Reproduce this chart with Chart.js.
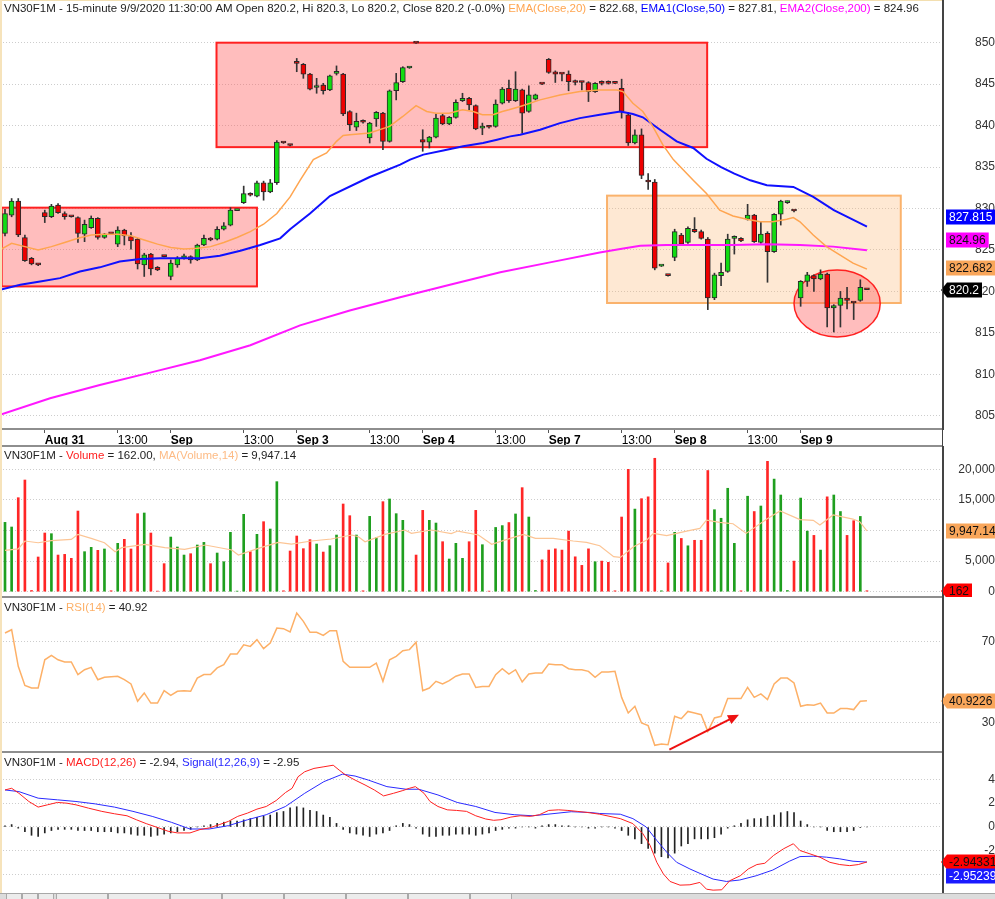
<!DOCTYPE html>
<html>
<head>
<meta charset="utf-8">
<title>VN30F1M 15-minute</title>
<script src="https://cdn.jsdelivr.net/npm/chart.js@4.4.1/dist/chart.umd.min.js"></script>
<style>
  html, body { margin: 0; padding: 0; background: #fff; }
  body { position: relative; width: 995px; height: 899px; overflow: hidden; }
  canvas { position: absolute; left: 0; }
  .hline { position: absolute; left: 0; width: 943px; height: 2px; background: #8e8e8e; }
  #vaxis { position: absolute; left: 942px; top: 0; width: 1px; height: 895px; background: #444; }
  #edgeTop { position: absolute; left: 0; top: 0; width: 942px; height: 1px; background: #f3dfb0; }
  #edgeLeft { position: absolute; left: 0; top: 0; width: 2px; height: 893px; background: #f6e3bb; }
  #tabs { position: absolute; left: 0; top: 893px; width: 995px; height: 6px; background: #dcdcdc; border-top: 1px solid #a8a8a8; }
  #tabs span { position: absolute; top: 0; height: 6px; border: 1px solid #aaa; border-top: none; background: #ececec; }
</style>
</head>
<body>
<canvas id="priceChart" width="995" height="446" style="top:0"></canvas>
<canvas id="volChart" width="995" height="151" style="top:446px"></canvas>
<canvas id="rsiChart" width="995" height="155" style="top:597px"></canvas>
<canvas id="macdChart" width="995" height="141" style="top:752px"></canvas>
<div class="hline" style="top:445px"></div>
<div class="hline" style="top:596px"></div>
<div class="hline" style="top:751px"></div>
<div id="vaxis"></div>
<div id="edgeTop"></div>
<div id="edgeLeft"></div>
<div id="tabs">
  <span style="left:6px;width:14px"></span><span style="left:22px;width:14px"></span><span style="left:38px;width:14px"></span>
  <span style="left:56px;width:50px"></span><span style="left:108px;width:60px"></span><span style="left:170px;width:50px"></span>
  <span style="left:222px;width:60px"></span><span style="left:284px;width:60px"></span><span style="left:346px;width:60px"></span>
  <span style="left:408px;width:60px"></span><span style="left:470px;width:40px"></span>
</div>
<script>
// ---- bars: 15-minute candles, index 0 = Aug 28 13:45 ... index 130 = Sep 9 11:30
const open = [
  827.0, 829.2, 830.9, 826.5, 824.0, 823.3, 829.5, 829.0, 830.4, 829.4,
  829.05, 828.9, 826.9, 827.7, 828.8, 826.5, 827.0, 825.7, 827.4, 826.6,
  826.3, 823.2, 824.5, 822.9, 824.25, 821.8, 823.2, 824.0, 824.2, 823.8,
  825.6, 826.4, 826.3, 827.5, 828.0, 829.75, 830.7, 831.8, 831.5, 833.1,
  832.0, 833.1, 837.95, 837.65, 847.6, 847.4, 846.2, 844.6, 844.9, 844.3,
  846.3, 846.2, 841.7, 839.8, 840.6, 838.5, 840.8, 841.5, 838.1, 844.2,
  845.3, 846.95, 850.0, 838.3, 838.0, 838.6, 841.2, 840.2, 841.0, 843.0,
  843.3, 842.4, 839.7, 839.9, 839.9, 842.7, 844.5, 843.0, 844.3, 841.7,
  843.2, 845.05, 848.0, 846.5, 846.25, 846.2, 845.25, 845.25, 845.2, 844.1,
  845.15, 845.15, 845.1, 844.5, 841.3, 837.9, 838.9, 833.4, 833.2, 823.05,
  821.95, 824.1, 826.8, 825.9, 827.5, 827.2, 826.3, 819.2, 821.9, 822.4,
  826.4, 826.4, 828.7, 829.2, 825.9, 827.0, 824.8, 829.3, 830.7, 829.75,
  819.2, 821.2, 821.9, 821.5, 822.1, 818.0, 818.3, 819.2, 818.65, 818.9, 820.2
];
const high = [
  829.9, 831.2, 831.2, 826.8, 824.1, 823.35, 829.8, 830.5, 830.6, 829.6,
  829.1, 829.0, 828.6, 829.1, 828.9, 827.0, 827.05, 827.8, 827.5, 827.1,
  826.4, 824.6, 824.6, 823.0, 824.3, 823.8, 824.2, 824.5, 824.3, 825.7,
  826.8, 826.5, 827.8, 828.3, 830.1, 829.85, 832.7, 831.9, 833.3, 833.3,
  833.5, 838.2, 838.0, 837.7, 848.1, 847.5, 846.3, 845.7, 845.1, 846.1,
  847.2, 846.3, 841.8, 841.5, 840.7, 840.4, 841.7, 841.6, 844.3, 846.3,
  847.1, 847.05, 850.05, 839.5, 838.7, 841.4, 841.4, 841.1, 843.1, 843.9,
  843.4, 842.5, 840.3, 840.0, 843.1, 844.6, 845.5, 846.5, 844.4, 844.8,
  843.8, 845.1, 848.1, 846.6, 846.3, 846.6, 845.5, 845.3, 845.3, 845.2,
  845.4, 845.4, 845.15, 845.6, 841.6, 839.5, 839.6, 834.2, 833.5, 823.15,
  822.0, 827.5, 827.0, 827.8, 828.9, 827.4, 826.5, 822.2, 823.4, 826.9,
  826.7, 826.5, 830.5, 829.3, 828.4, 827.2, 829.4, 831.0, 830.9, 829.8,
  821.3, 822.3, 822.0, 822.6, 822.2, 818.4, 820.0, 820.5, 818.7, 821.4, 820.3
];
const low = [
  826.7, 829.0, 826.6, 823.6, 823.2, 823.1, 828.3, 828.9, 829.4, 828.7,
  828.95, 825.9, 826.0, 827.6, 826.3, 826.4, 826.9, 825.4, 825.6, 825.1,
  822.7, 821.8, 822.0, 822.5, 824.15, 821.4, 822.9, 823.9, 823.4, 823.7,
  825.5, 826.1, 826.2, 827.4, 827.9, 829.75, 830.6, 831.5, 831.4, 831.0,
  831.9, 832.9, 837.85, 837.55, 846.5, 845.7, 844.3, 843.9, 843.8, 844.2,
  846.1, 841.2, 839.4, 839.4, 840.3, 837.9, 839.9, 837.1, 838.0, 843.1,
  845.2, 846.9, 849.9, 836.9, 837.3, 838.5, 840.1, 840.1, 840.9, 842.9,
  841.9, 839.5, 838.9, 839.7, 839.8, 842.6, 842.8, 842.9, 839.1, 841.6,
  843.1, 844.95, 846.3, 845.2, 845.4, 844.2, 844.9, 844.3, 842.9, 844.0,
  844.9, 845.0, 845.05, 840.9, 837.6, 837.8, 833.6, 832.3, 822.6, 823.0,
  821.85, 823.7, 825.6, 825.8, 827.1, 826.3, 817.8, 819.0, 820.7, 822.3,
  824.5, 826.0, 828.6, 825.9, 825.8, 821.1, 824.7, 828.0, 830.6, 829.6,
  818.2, 820.6, 820.0, 821.4, 815.7, 815.1, 815.7, 817.9, 816.6, 818.8, 820.2
];
const close = [
  829.4, 830.9, 826.8, 823.7, 823.3, 823.2, 829.0, 830.3, 829.5, 829.0,
  829.0, 827.0, 828.1, 828.8, 826.5, 826.9, 826.95, 827.4, 826.7, 826.1,
  823.3, 824.4, 822.7, 822.6, 824.2, 823.4, 824.0, 824.3, 823.8, 825.6,
  826.4, 826.2, 827.5, 827.9, 829.8, 829.8, 831.8, 831.6, 833.1, 832.0,
  833.1, 838.0, 837.9, 837.6, 847.5, 846.2, 844.4, 844.7, 844.2, 846.0,
  846.35, 841.4, 840.1, 840.5, 840.4, 840.3, 841.6, 838.1, 844.2, 845.2,
  847.0, 847.0, 849.95, 838.0, 838.6, 840.9, 840.2, 841.0, 842.8, 843.3,
  842.5, 839.6, 839.75, 839.8, 842.6, 844.4, 843.0, 844.4, 841.5, 843.7,
  843.7, 845.0, 846.4, 846.2, 846.2, 845.3, 845.2, 845.2, 844.1, 845.1,
  845.1, 845.1, 845.1, 841.7, 837.9, 838.9, 834.0, 833.2, 822.8, 823.1,
  821.9, 827.2, 825.7, 827.6, 827.2, 826.4, 819.2, 822.0, 822.3, 826.3,
  826.6, 826.1, 829.2, 826.0, 826.9, 824.8, 829.3, 830.9, 830.8, 829.7,
  821.2, 822.0, 821.5, 822.1, 818.0, 818.3, 819.2, 818.9, 818.6, 820.5, 820.2
];
const volume = [
  11330, 10570, 15360, 18250, 200, 5670, 9590, 9480, 5990, 6100,
  5450, 13180, 6540, 7250, 6760, 6980, 160, 7900, 8560, 6980,
  12750, 12860, 9590, 100, 4580, 8930, 7300, 5990, 6210, 7630,
  8060, 4580, 6320, 4900, 9700, 100, 12640, 6540, 9370, 11440,
  10240, 17980, 150, 6650, 9100, 7030, 8500, 7790, 6480, 7520,
  9260, 14330, 12420, 9260, 150, 12310, 8830, 14710, 15150, 12750,
  11660, 150, 5990, 13290, 11660, 11220, 8170, 5340, 7900, 5450,
  8170, 13290, 7680, 100, 10500, 10800, 11300, 12700, 17000, 12200,
  200, 5200, 6800, 7000, 6800, 9900, 5700, 4300, 7000, 4900,
  5000, 4800, 150, 12200, 20000, 13500, 15200, 15500, 21800, 150,
  4700, 9700, 8700, 7500, 8400, 8400, 19800, 13400, 12000, 16900,
  7900, 150, 15600, 13100, 14000, 21300, 18400, 15800, 200, 5000,
  15300, 9900, 9200, 6800, 15500, 15800, 13100, 9200, 11600, 12300, 162
];

// ---- indicator lines as [bar index, value]
const ema20 = [
  [-0.75, 825.0], [1, 825.8], [3, 825.4], [5, 825.0], [7, 825.4], [9, 825.9], [11, 826.4], [13, 826.8],
  [15, 826.9], [17, 826.9], [19, 826.7], [21, 826.2], [23, 825.7], [25, 825.3], [27, 825.1], [29, 825.2],
  [31, 825.4], [33, 825.9], [35, 826.5], [37, 827.2], [39, 828.1], [41, 829.4], [43, 831.4], [44.5, 833.4],
  [46.5, 835.9], [48.5, 836.7], [50, 838.1], [51, 838.8], [52, 838.9], [55, 839.1], [58, 839.9], [60, 841.1],
  [62, 842.4], [63.6, 841.7], [65, 841.5], [67, 841.5], [69, 841.9], [70.6, 841.7], [72, 841.3], [73.6, 841.3],
  [75, 841.7], [76, 841.9], [77.7, 842.3], [80.7, 843.1], [83.7, 843.7], [86.7, 844.1], [89.7, 844.3], [92.3, 844.3],
  [93.2, 844.1], [94.7, 842.7], [96.2, 841.7], [97.7, 839.9], [99.2, 837.7], [100.8, 835.9], [103.8, 833.4], [105.8, 831.8],
  [107.8, 829.8], [109.8, 829.1], [111.9, 828.7], [113.9, 828.4], [115.8, 828.4], [117.9, 828.7], [118.9, 828.9], [119.9, 828.4],
  [121.9, 826.8], [123.9, 825.4], [125.9, 824.4], [127.9, 823.4], [130, 822.68]
];
const ema50 = [
  [-0.75, 820.2], [2.3, 820.8], [5.3, 821.2], [8.3, 821.6], [11.3, 822.4], [14.3, 822.9], [17.3, 823.6], [20.4, 823.9],
  [23.4, 824.0], [26.4, 824.0], [29.4, 824.0], [32.4, 824.3], [35.5, 824.9], [38.5, 825.6], [41.5, 826.4], [43, 827.5],
  [46, 829.4], [49, 831.5], [55, 833.8], [59.6, 835.3], [61.1, 835.9], [63.1, 836.5], [66.1, 837.0], [69.1, 837.5],
  [72.1, 837.9], [74.2, 838.3], [76.2, 838.7], [77.7, 838.9], [80.7, 839.5], [83.7, 840.3], [86.7, 840.9], [89.7, 841.3],
  [92.8, 841.7], [94.7, 841.4], [96.2, 841.0], [98.8, 839.5], [101.3, 838.1], [103.8, 837.3], [105.8, 836.0], [108, 835.0],
  [110, 834.2], [112.4, 833.4], [114.9, 832.8], [118.9, 832.6], [121.9, 831.4], [125, 829.8], [127.5, 828.8], [130, 827.81]
];
const ema200 = [
  [-0.75, 805.1], [6.8, 807.1], [14.3, 808.7], [21.9, 810.2], [29.4, 811.7], [37, 813.5], [44.5, 815.9], [52, 817.7],
  [59.6, 819.3], [67.1, 820.8], [74.7, 822.3], [82.2, 823.5], [89.7, 824.7], [92.8, 825.1], [95.8, 825.5], [99.8, 825.6],
  [104.8, 825.6], [109.8, 825.6], [114.9, 825.7], [119.9, 825.6], [124.9, 825.4], [130, 824.96]
];
const volMA = [
  [0, 6750], [2, 7000], [3, 8280], [5, 8000], [7, 8330], [10, 8550], [11, 9370], [13, 8710], [15, 8000], [16.6, 6540],
  [17.6, 7190], [21.1, 7740], [24.1, 7190], [27.1, 6920], [30.2, 7630], [34.2, 6810], [35.2, 5990], [38.2, 7080], [41.2, 8060],
  [43.2, 7790], [46.2, 8280], [49.2, 8610], [52.3, 9260], [53.3, 8990], [54.3, 8170], [57.3, 9370], [60.3, 10080], [61.3, 9530],
  [64.3, 10080], [67.3, 9480], [68.3, 9910], [71.4, 9260], [73.4, 7740], [76.2, 8710], [78.2, 9370], [80, 8710], [82.7, 8710],
  [85.7, 8280], [87.7, 8060], [89.7, 7520], [91.8, 5720], [92.8, 5610], [94.8, 7350], [96.8, 8440], [97.8, 9530], [99.8, 9150],
  [102.8, 9910], [104.8, 10350], [105.8, 11710], [107.8, 11330], [109.8, 11110], [111.8, 9530], [114.9, 11870], [116.9, 13180],
  [119.9, 11770], [121.9, 11660], [122.9, 10890], [124.9, 12530], [127.9, 11870], [128.9, 11440], [130, 9947.14]
];
const rsi = [
  74.3, 75.9, 57.9, 48.5, 47.2, 47.2, 61.1, 63.3, 61.1, 60.0,
  60.0, 53.8, 56.2, 57.4, 51.3, 52.5, 52.8, 53.0, 51.3, 49.2,
  40.7, 44.8, 39.8, 39.8, 45.9, 43.6, 45.6, 45.9, 45.6, 52.1,
  53.8, 53.8, 57.1, 58.7, 63.9, 63.9, 68.5, 67.7, 71.0, 66.6,
  69.3, 76.7, 76.4, 74.8, 84.1, 80.0, 74.6, 74.6, 73.1, 75.4,
  75.4, 60.3, 57.4, 57.4, 57.4, 57.4, 59.5, 50.5, 61.1, 62.8,
  65.6, 66.1, 69.7, 45.9, 47.2, 50.5, 49.2, 50.8, 53.0, 54.1,
  54.1, 47.5, 48.0, 48.0, 53.8, 56.7, 54.1, 56.2, 50.2, 54.1,
  54.6, 54.6, 59.0, 58.7, 58.7, 56.7, 56.2, 56.2, 55.4, 52.5,
  55.1, 55.1, 55.4, 42.6, 34.9, 38.2, 30.0, 28.7, 19.0, 19.7,
  19.3, 33.3, 32.1, 35.7, 34.9, 34.1, 25.9, 32.5, 33.3, 42.0,
  42.0, 42.0, 47.5, 42.6, 44.3, 41.5, 49.2, 52.1, 52.1, 49.7,
  38.2, 39.0, 38.7, 39.8, 34.9, 34.9, 37.1, 37.1, 36.6, 40.7, 40.92
];
const macd = [
  [0, 3.11], [1, 3.25], [2.1, 2.83], [3.6, 2.14], [5, 1.67], [6.4, 1.86], [7.9, 2.06], [9.3, 2.0], [10.7, 1.86], [12.6, 1.58],
  [14.6, 1.31], [16.5, 1.11], [18.4, 0.94], [19.8, 0.61], [21.3, 0.28], [23.2, -0.08], [24.6, -0.36], [26, -0.5], [27.9, -0.5],
  [29.4, -0.22], [30.8, -0.08], [32.3, 0.19], [33.7, 0.47], [35.1, 0.89], [36.6, 1.17], [38, 1.5], [39.4, 1.72], [40.9, 2.22],
  [42.3, 2.89], [43.3, 3.25], [44.2, 4.22], [45.2, 4.64], [46.6, 4.92], [48.1, 5.06], [49.5, 5.19], [50.4, 4.78], [51.4, 4.36],
  [52.8, 3.94], [54.3, 3.53], [55.7, 3.11], [57.1, 2.61], [58.6, 2.83], [60, 3.06], [61, 3.25], [61.9, 3.39], [63.2, 2.83],
  [64.1, 2.14], [65.3, 1.72], [66.7, 1.44], [68.1, 1.39], [69.6, 1.31], [71, 0.94], [72.5, 0.67], [73.7, 0.56], [74.8, 0.61],
  [76.3, 0.83], [77.7, 0.94], [79.2, 0.89], [80.6, 1.03], [82, 1.39], [83.5, 1.44], [84.9, 1.39], [86.3, 1.31], [87.8, 1.22],
  [89.7, 1.07], [92.8, 0.7], [94.7, 0.28], [96.2, -0.56], [97.3, -1.55], [98.3, -2.97], [99.3, -3.95], [100.3, -4.58],
  [101.8, -4.89], [103.3, -4.86], [104.8, -4.66], [105.8, -5.23], [106.8, -5.31], [108.1, -5.28], [109.3, -4.52], [110.9, -4.1],
  [112.1, -3.53], [113.4, -3.16], [114.6, -3.05], [115.9, -2.4], [117.4, -1.84], [118.9, -1.41], [119.9, -1.98], [121.4, -2.26],
  [122.9, -2.54], [124.4, -2.97], [125.9, -3.16], [127.4, -3.25], [128.7, -3.16], [130, -2.94]
];
const signal = [
  [0, 3.11], [2.1, 2.97], [5, 2.42], [7.9, 2.28], [10.7, 2.14], [13.6, 1.94], [16.5, 1.67], [19.3, 1.31], [22.2, 0.89],
  [25.1, 0.39], [27.9, -0.17], [30.8, -0.17], [33.7, 0.11], [36.6, 0.61], [39.4, 1.03], [42.3, 1.72], [45.2, 2.83], [48.1, 3.81],
  [50.9, 4.44], [52.8, 4.28], [54.8, 3.94], [57.6, 3.39], [60.5, 3.17], [62.4, 3.17], [65.3, 2.69], [68.2, 2.06], [71, 1.72],
  [73.9, 1.22], [76.8, 1.03], [79.6, 0.94], [82.5, 1.11], [85.4, 1.28], [88.2, 1.22], [89.7, 1.13], [92.8, 1.07], [94.7, 0.7],
  [96.7, 0.0], [98.3, -1.13], [99.8, -2.12], [101.3, -2.97], [103.3, -3.53], [104.8, -3.9], [106.8, -4.38], [108.8, -4.58],
  [110.8, -4.46], [113.3, -4.1], [115.8, -3.62], [118.3, -2.88], [119.9, -2.49], [121.9, -2.46], [123.9, -2.54], [125.9, -2.68],
  [127.9, -2.88], [130, -2.95]
];
const macdHist = [
  0.1, 0.2, -0.1, -0.4, -0.7, -0.8, -0.5, -0.3, -0.2, -0.2,
  -0.2, -0.3, -0.3, -0.3, -0.4, -0.4, -0.4, -0.5, -0.5, -0.6,
  -0.7, -0.7, -0.8, -0.7, -0.6, -0.5, -0.4, -0.3, -0.2, 0.0,
  0.1, 0.2, 0.3, 0.4, 0.5, 0.5, 0.6, 0.7, 0.8, 0.9,
  1.0, 1.2, 1.3, 1.6, 1.7, 1.6, 1.4, 1.3, 1.0, 0.8,
  0.3, -0.2, -0.5, -0.6, -0.7, -0.8, -0.6, -0.5, -0.3, 0.1,
  0.3, 0.2, -0.1, -0.6, -0.8, -0.8, -0.7, -0.7, -0.6, -0.6,
  -0.6, -0.7, -0.6, -0.5, -0.3, -0.2, -0.1, -0.1, 0.0, 0.0,
  -0.1, 0.1, 0.2, 0.2, 0.1, 0.1, 0.0, 0.0, -0.1, -0.1,
  0.0, 0.0, -0.1, -0.3, -0.7, -1.0, -1.4, -1.8, -2.2, -2.5,
  -2.6, -2.2, -1.6, -1.4, -1.0, -1.0, -1.0, -0.9, -0.6, -0.1,
  0.1, 0.3, 0.6, 0.7, 0.7, 0.9, 1.0, 1.2, 1.3, 1.2,
  0.5, 0.2, 0.0, 0.0, -0.3, -0.4, -0.4, -0.4, -0.3, -0.05, 0.0
];

// ---- axis labels
const timeTickIdx = [6, 17, 25, 36, 44, 55, 63, 74, 82, 93, 101, 112, 120];
const timeTickText = ['Aug 31', '13:00', 'Sep', '13:00', 'Sep 3', '13:00', 'Sep 4', '13:00', 'Sep 7', '13:00', 'Sep 8', '13:00', 'Sep 9'];
const priceTicks = [805, 810, 815, 820, 825, 830, 835, 840, 845, 850];
const volTicks = [0, 5000, 10000, 15000, 20000];
const rsiTicks = [30, 70];
const macdTicks = [-4, -2, 0, 2, 4];

// last values shown in the tags on the right axis
const priceTagValues = [827.815, 824.96, 822.682, 820.2];
const volTagValues = [9947.14, 162];
const rsiTagValues = [40.9226];
const macdTagValues = [-2.94331, -2.95239];

// drawn marks: boxes [x from, x to, price low, price high], ellipse [x, price, rx, ry], arrow [[x, rsi], [x, rsi]]
const priceBoxes = [[-0.5, 38.0, 820.6, 830.1], [31.9, 105.9, 837.4, 850.0], [90.8, 135.1, 818.6, 831.55]];
const priceEllipse = [125.5, 818.55, 6.5, 4.04];
const rsiArrow = [[100.2, 16.9], [110.7, 34.1]];

// ---------------------------------------------------------------------------
const FONT = '"Liberation Sans", Arial, sans-serif';
const TITLE_FONT = '11.5px ' + FONT;
const X_MIN = -0.754, X_MAX = 141.47;
const AXIS_W = 52;
const UP = '#12dc12', DOWN = '#ee0000';

Chart.defaults.font.family = FONT;
Chart.defaults.font.size = 12;
Chart.defaults.animation = false;

const meas = document.createElement('canvas').getContext('2d');
meas.font = '12px ' + FONT;
function labelPad(labels) {
    const w = Math.max.apply(null, labels.map(t => meas.measureText(t).width));
    return AXIS_W - 2 - w;
}

function timeAxis(show) {
    return {
        type: 'linear', min: X_MIN, max: X_MAX, offset: false, display: show,
        grid: { offset: false, drawOnChartArea: false, drawTicks: true, tickLength: 4, color: '#555' },
        border: { display: true, color: '#8e8e8e', width: 2 },
        afterBuildTicks: s => { s.ticks = timeTickIdx.map(v => ({ value: v })); },
        afterFit: s => {
            if (show) s.height = 17;
            s.paddingLeft = 0; s.paddingRight = 0;
        },
        ticks: {
            autoSkip: false, maxRotation: 0, minRotation: 0, align: 'start', padding: 0, color: '#000',
            font: c => ({ family: FONT, size: 12, weight: timeTickText[c.index] === '13:00' ? 'normal' : 'bold' }),
            callback: (v, i) => timeTickText[i]
        }
    };
}

function valueAxis(min, max, ticks, fmt) {
    return {
        type: 'linear', position: 'right', min: min, max: max,
        afterBuildTicks: s => { s.ticks = ticks.map(v => ({ value: v })); },
        afterFit: s => { s.width = AXIS_W; s.paddingTop = 0; s.paddingBottom = 0; },
        grid: { color: '#cdcdcd', drawTicks: false, tickLength: 0 },
        border: { display: true, color: '#444', width: 1, dash: [1, 2] },
        ticks: {
            crossAlign: 'far', padding: labelPad(ticks.map(fmt)), color: '#333',
            font: { family: FONT, size: 12 }, callback: v => fmt(v)
        }
    };
}

const paneTitle = {
    id: 'paneTitle',
    afterDraw(chart, args, opts) {
        const ctx = chart.ctx;
        ctx.save();
        ctx.font = TITLE_FONT;
        ctx.textBaseline = 'middle';
        let x = 4;
        opts.parts.forEach(p => {
            ctx.fillStyle = p[1];
            ctx.fillText(p[0], x, opts.y);
            x += ctx.measureText(p[0]).width;
        });
        ctx.restore();
    }
};

const valueTags = {
    id: 'valueTags',
    afterDraw(chart, args, opts) {
        const ctx = chart.ctx;
        const ys = chart.scales.y;
        ctx.save();
        ctx.font = '12px ' + FONT;
        ctx.textBaseline = 'middle';
        opts.items.forEach(it => {
            const y = Math.round(ys.getPixelForValue(it.value) + (it.dy || 0));
            const w = ctx.measureText(it.text).width + 6;
            const x0 = 946, h = 15;
            ctx.fillStyle = it.bg;
            ctx.beginPath();
            if (it.arrow) {
                ctx.moveTo(x0 - 5, y);
                ctx.lineTo(x0 + 1, y - h / 2);
            } else {
                ctx.moveTo(x0, y - h / 2);
            }
            ctx.lineTo(x0 + w, y - h / 2);
            ctx.lineTo(x0 + w, y + h / 2);
            if (it.arrow) ctx.lineTo(x0 + 1, y + h / 2);
            else ctx.lineTo(x0, y + h / 2);
            ctx.closePath();
            ctx.fill();
            ctx.fillStyle = it.fg;
            ctx.fillText(it.text, x0 + 3, y + 1);
        });
        ctx.restore();
    }
};

const priceMarks = {
    id: 'priceMarks',
    beforeDatasetsDraw(chart) {
        const ctx = chart.ctx, xs = chart.scales.x, ys = chart.scales.y, a = chart.chartArea;
        const styles = [['rgba(255,90,90,0.40)', '#ff2020'], ['rgba(255,90,90,0.40)', '#ff2020'], ['rgba(252,180,110,0.30)', '#fab26c']];
        ctx.save();
        ctx.beginPath();
        ctx.rect(a.left, a.top, a.right - a.left, a.bottom - a.top);
        ctx.clip();
        priceBoxes.forEach((b, i) => {
            const x0 = xs.getPixelForValue(b[0]), x1 = xs.getPixelForValue(b[1]);
            const y0 = ys.getPixelForValue(b[3]), y1 = ys.getPixelForValue(b[2]);
            ctx.fillStyle = styles[i][0];
            ctx.fillRect(x0, y0, x1 - x0, y1 - y0);
            ctx.strokeStyle = styles[i][1];
            ctx.lineWidth = 2;
            ctx.strokeRect(x0, y0, x1 - x0, y1 - y0);
        });
        const e = priceEllipse;
        const cx = xs.getPixelForValue(e[0]), cy = ys.getPixelForValue(e[1]);
        const rx = xs.getPixelForValue(e[0] + e[2]) - cx, ry = cy - ys.getPixelForValue(e[1] + e[3]);
        ctx.beginPath();
        ctx.ellipse(cx, cy, rx, ry, 0, 0, Math.PI * 2);
        ctx.fillStyle = 'rgba(255,90,90,0.40)';
        ctx.fill();
        ctx.strokeStyle = '#ff2020';
        ctx.lineWidth = 1.5;
        ctx.stroke();
        ctx.restore();
    }
};

const rsiMark = {
    id: 'rsiMark',
    afterDatasetsDraw(chart) {
        const ctx = chart.ctx, xs = chart.scales.x, ys = chart.scales.y;
        const x0 = xs.getPixelForValue(rsiArrow[0][0]), y0 = ys.getPixelForValue(rsiArrow[0][1]);
        const x1 = xs.getPixelForValue(rsiArrow[1][0]), y1 = ys.getPixelForValue(rsiArrow[1][1]);
        const ang = Math.atan2(y1 - y0, x1 - x0);
        ctx.save();
        ctx.strokeStyle = '#ee1111';
        ctx.fillStyle = '#ee1111';
        ctx.lineWidth = 2;
        ctx.beginPath();
        ctx.moveTo(x0, y0);
        ctx.lineTo(x1 - 6 * Math.cos(ang), y1 - 6 * Math.sin(ang));
        ctx.stroke();
        ctx.beginPath();
        ctx.moveTo(x1, y1);
        ctx.lineTo(x1 - 11 * Math.cos(ang) + 5 * Math.sin(ang), y1 - 11 * Math.sin(ang) - 5 * Math.cos(ang));
        ctx.lineTo(x1 - 11 * Math.cos(ang) - 5 * Math.sin(ang), y1 - 11 * Math.sin(ang) + 5 * Math.cos(ang));
        ctx.closePath();
        ctx.fill();
        ctx.restore();
    }
};

function pts(pairs) { return pairs.map(p => ({ x: p[0], y: p[1] })); }
const isUp = i => close[i] > open[i];
const baseOpts = {
    responsive: false, devicePixelRatio: 1, animation: false,
    layout: { padding: 0 },
    events: []
};
const fmt0 = v => String(v);
const fmtVol = v => v.toLocaleString('en-US');

// price pane
new Chart(document.getElementById('priceChart'), {
    type: 'bar',
    data: {
        datasets: [
            { type: 'line', order: 1, data: pts(ema20), borderColor: '#ffa550', borderWidth: 1.5, pointRadius: 0, tension: 0 },
            { type: 'line', order: 1, data: pts(ema50), borderColor: '#1010ff', borderWidth: 2, pointRadius: 0, tension: 0 },
            { type: 'line', order: 1, data: pts(ema200), borderColor: '#ff18ff', borderWidth: 2, pointRadius: 0, tension: 0 },
            {
                order: 2, grouped: false, barThickness: 5, minBarLength: 2,
                data: open.map((o, i) => ({ x: i, y: [o, close[i]] })),
                backgroundColor: c => isUp(c.dataIndex) ? UP : DOWN,
                borderColor: '#2a2a2a', borderWidth: 1, borderSkipped: false
            },
            {
                order: 3, grouped: false, barThickness: 1,
                data: low.map((l, i) => ({ x: i, y: [l, high[i]] })),
                backgroundColor: '#333', borderWidth: 0
            }
        ]
    },
    options: Object.assign({}, baseOpts, {
        scales: { x: timeAxis(true), y: valueAxis(803.4, 855.15, priceTicks, fmt0) },
        plugins: {
            legend: { display: false }, tooltip: { enabled: false },
            paneTitle: {
                y: 9, parts: [
                    ['VN30F1M - 15-minute 9/9/2020 11:30:00 AM Open 820.2, Hi 820.3, Lo 820.2, Close 820.2 (-0.0%) ', '#222'],
                    ['EMA(Close,20)', '#ffa550'], [' = 822.68, ', '#222'],
                    ['EMA1(Close,50)', '#0000ff'], [' = 827.81, ', '#222'],
                    ['EMA2(Close,200)', '#ff00ff'], [' = 824.96', '#222']
                ]
            },
            valueTags: {
                items: [
                    { value: priceTagValues[0], text: String(priceTagValues[0]), bg: '#0000ff', fg: '#fff', dy: -10 },
                    { value: priceTagValues[1], text: String(priceTagValues[1]), bg: '#ff00ff', fg: '#111', dy: -10 },
                    { value: priceTagValues[2], text: String(priceTagValues[2]), bg: '#f9a65a', fg: '#111', dy: -1 },
                    { value: priceTagValues[3], text: String(priceTagValues[3]), bg: '#000', fg: '#fff', arrow: true }
                ]
            }
        }
    }),
    plugins: [priceMarks, paneTitle, valueTags]
});

// volume pane
new Chart(document.getElementById('volChart'), {
    type: 'bar',
    data: {
        datasets: [
            { type: 'line', order: 1, data: pts(volMA), borderColor: '#fcc595', borderWidth: 1.2, pointRadius: 0, tension: 0 },
            {
                order: 2, grouped: false, barThickness: 2,
                data: volume.map((v, i) => ({ x: i, y: v })),
                backgroundColor: c => isUp(c.dataIndex) ? '#1f9f1f' : '#ff2626', borderWidth: 0
            }
        ]
    },
    options: Object.assign({}, baseOpts, {
        scales: { x: timeAxis(false), y: valueAxis(-866, 23807, volTicks, fmtVol) },
        plugins: {
            legend: { display: false }, tooltip: { enabled: false },
            paneTitle: {
                y: 10, parts: [['VN30F1M - ', '#222'], ['Volume', '#ff2020'], [' = 162.00, ', '#222'],
                    ['MA(Volume,14)', '#fdbb85'], [' = 9,947.14', '#222']]
            },
            valueTags: {
                items: [
                    { value: volTagValues[0], text: fmtVol(volTagValues[0]), bg: '#f9a65a', fg: '#111' },
                    { value: volTagValues[1], text: fmtVol(volTagValues[1]), bg: '#ff0000', fg: '#111', arrow: true }
                ]
            }
        }
    }),
    plugins: [paneTitle, valueTags]
});

// RSI pane
new Chart(document.getElementById('rsiChart'), {
    type: 'line',
    data: {
        datasets: [
            { data: rsi.map((v, i) => ({ x: i, y: v })), borderColor: '#fdb067', borderWidth: 1.5, pointRadius: 0, tension: 0 }
        ]
    },
    options: Object.assign({}, baseOpts, {
        scales: { x: timeAxis(false), y: valueAxis(15.73, 91.99, rsiTicks, fmt0) },
        plugins: {
            legend: { display: false }, tooltip: { enabled: false },
            paneTitle: { y: 11, parts: [['VN30F1M - ', '#222'], ['RSI(14)', '#fdb067'], [' = 40.92', '#222']] },
            valueTags: { items: [{ value: rsiTagValues[0], text: String(rsiTagValues[0]), bg: '#f9a65a', fg: '#111', arrow: true }] }
        }
    }),
    plugins: [rsiMark, paneTitle, valueTags]
});

// MACD pane
new Chart(document.getElementById('macdChart'), {
    type: 'bar',
    data: {
        datasets: [
            { type: 'line', order: 1, data: pts(macd), borderColor: '#ff2020', borderWidth: 1, pointRadius: 0, tension: 0 },
            { type: 'line', order: 1, data: pts(signal), borderColor: '#2a2aff', borderWidth: 1, pointRadius: 0, tension: 0 },
            {
                order: 2, grouped: false, barThickness: 1,
                data: macdHist.map((v, i) => ({ x: i, y: v })), backgroundColor: '#222', borderWidth: 0
            }
        ]
    },
    options: Object.assign({}, baseOpts, {
        scales: { x: timeAxis(false), y: valueAxis(-5.55, 6.30, macdTicks, fmt0) },
        plugins: {
            legend: { display: false }, tooltip: { enabled: false },
            paneTitle: {
                y: 11, parts: [['VN30F1M - ', '#222'], ['MACD(12,26)', '#ff2020'], [' = -2.94, ', '#222'],
                    ['Signal(12,26,9)', '#2a2aff'], [' = -2.95', '#222']]
            },
            valueTags: {
                items: [
                    { value: macdTagValues[0], text: String(macdTagValues[0]), bg: '#ff0000', fg: '#111', arrow: true },
                    { value: macdTagValues[1], text: String(macdTagValues[1]), bg: '#1a1aff', fg: '#fff', dy: 14 }
                ]
            }
        }
    }),
    plugins: [paneTitle, valueTags]
});
</script>
</body>
</html>
